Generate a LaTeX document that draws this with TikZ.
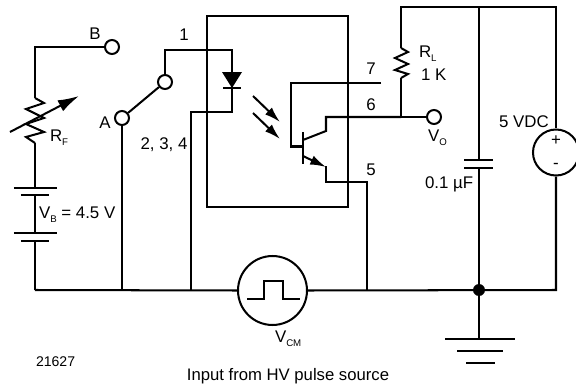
\documentclass[tikz,border=0pt]{standalone}
\usepackage{fontspec}
\setmainfont{Liberation Sans}
\usetikzlibrary{arrows.meta, calc}

\newcommand{\lowsub}[1]{\raisebox{-2.2pt}{\fontsize{5.5}{6}\selectfont #1}}

\begin{document}
\begin{tikzpicture}[
        x=0.02cm, y=-0.02cm,
        font=\fontsize{9.6}{11}\selectfont,
        line width=1.15pt,
        wire/.style={line width=1.15pt, line join=miter},
        term/.style={draw, circle, fill=white, inner sep=0pt, minimum size=0.28cm, line width=1.15pt},
        plate/.style={line width=1.15pt},
        lbl/.style={inner sep=0pt, anchor=center},
        lbll/.style={inner sep=0pt, anchor=west},
        head/.style={-{Latex[length=9pt,width=5.5pt]}, line width=1.15pt},
        bighead/.style={-{Latex[length=12pt,width=7pt]}, line width=1.15pt}
    ]
    \useasboundingbox (0,0) rectangle (576,389);

    % Terminals
    \node[term] (termB) at (112,47) {};
    \node[term] (termA) at (122,118) {};
    \node[term] (termC) at (165,82) {};
    \node[term] (termO) at (434,117) {};

    % Fixed points of the ground rail
    \coordinate (railL) at (35,290);
    \coordinate (railA) at (122,290);
    \coordinate (railD) at (191,290);
    \coordinate (rail5) at (367,290);
    \coordinate (railC) at (479,290);
    \coordinate (railR) at (556,290);

    % Left: variable resistor and battery
    \coordinate (rfTop) at (35,98);
    \coordinate (rfBot) at (35,143);
    \coordinate (batA) at (35,188);
    \coordinate (batB) at (35,195);
    \coordinate (batC) at (35,233);
    \coordinate (batD) at (35,241);
    \draw[wire] (termB.west) -| (rfTop);
    \draw[wire] (rfTop) -- ++(9,5) -- ++(-18,6) -- ++(18,9) -- ++(-18,6) -- ++(18,8) -- ++(-18,5) -- (rfBot);
    \draw[bighead] (10,132) -- (79,96);
    \draw[wire] (rfBot) -- (batA);
    \draw[plate] ($(batA)+(-21,0)$) -- ($(batA)+(22,0)$);
    \draw[plate] ($(batB)+(-14,0)$) -- ($(batB)+(14,0)$);
    \draw[wire] (batB) -- (batC);
    \draw[plate] ($(batC)+(-21,0)$) -- ($(batC)+(22,0)$);
    \draw[plate] ($(batD)+(-14,0)$) -- ($(batD)+(14,0)$);
    \draw[wire] (batD) -- (railL);

    % Switch
    \draw[wire] (termA) -- (termC);
    \draw[wire] (termA.south) -- (railA);

    % Optocoupler package
    \node[draw, line width=1.15pt, inner sep=0pt, minimum width=2.82cm, minimum height=3.82cm] (pkg) at (277.5,111.5) {};

    % Diode
    \coordinate (dioTop) at (232,72);
    \coordinate (dioBot) at (232,88);
    \draw[wire] (termC.north) |- (232,50) -- (dioTop);
    \fill (222,72) -- (242,72) -- (dioBot) -- cycle;
    \draw[plate] (223,88) -- (241,88);
    \draw[wire] (dioBot) |- (191,112) -- (railD);

    % Light arrows
    \draw[head] (253,96) -- (280,122);
    \draw[head] (253,113) -- (280,139);

    % Transistor
    \coordinate (base) at (303,146.5);
    \coordinate (pin6) at (401,117);
    \draw[wire] (303,132) -- (303,164);
    \draw[wire] (381,83) -| (291,146.5) -- (base);
    \draw[wire] (303,140) -- (326,131) |- (pin6);
    \draw[wire] (pin6) -- (termO.west);
    \draw[head] (303,156) -- (326,167);
    \draw[wire] (326,166) |- (367,182) -- (rail5);

    % Right: load resistor, capacitor, supply
    \coordinate (topL) at (401,7);
    \coordinate (topC) at (479,7);
    \coordinate (rlTop) at (401,48);
    \coordinate (rlBot) at (401,78);
    \coordinate (capA) at (479,160);
    \coordinate (capB) at (479,168);
    \node[draw, circle, line width=1.15pt, fill=white, inner sep=0pt, minimum size=0.92cm] (vdc) at (556,152.5) {};
    \draw[wire] (rlTop) |- (topL) -| (vdc.north);
    \draw[wire] (topC) -- (capA);
    \draw[wire] (rlTop) -- ++(7,4) -- ++(-13,6) -- ++(13,6) -- ++(-13,6) -- ++(13,4) -- (rlBot);
    \draw[wire] (rlBot) -- (pin6);
    \draw[plate] ($(capA)+(-15,0)$) -- ($(capA)+(14,0)$);
    \draw[plate] ($(capB)+(-15,0)$) -- ($(capB)+(14,0)$);
    \draw[wire] (capB) -- (railC);

    % Bottom: pulse source and ground
    \node[draw, circle, line width=1.15pt, inner sep=0pt, minimum size=1.38cm] (vcm) at (272.5,290.5) {};
    \draw[wire] (railL) -- (vcm.west);
    \draw[wire] (vcm.east) -- (railR) -- (vdc.south);
    \draw[wire] (247,299) -- (264,299) -- (264,281) -- (283,281) -- (283,299) -- (300,299);
    \fill (railC) circle (6);
    \coordinate (gnd) at (479,339);
    \draw[wire] (railC) -- (gnd);
    \draw[plate] (445,339) -- (515,339);
    \draw[plate] (457,351) -- (503,351);
    \draw[plate] (466,363) -- (495,363);

    % Labels
    \node[lbl] (lblB) at (95,34) {B};
    \node[lbl] (lblOne) at (184,35) {1};
    \node[lbl] (lblA) at (105,123) {A};
    \node[lbl] (lblPins) at (164,145) {2, 3, 4};
    \node[lbll] (lblRf) at (49,138) {R\lowsub{F}};
    \node[lbll] (lblVb) at (38,215) {V\lowsub{B} = 4.5 V};
    \node[lbl] (lblSeven) at (371,69) {7};
    \node[lbl] (lblSix) at (371,105) {6};
    \node[lbl] (lblFive) at (371,170) {5};
    \node[lbll] (lblRl) at (418,54) {R\lowsub{L}};
    \node[lbll] (lblK) at (420,75) {1 K};
    \node[lbll] (lblVo) at (427,138) {V\lowsub{O}};
    \node[lbl] (lblVdc) at (524,122) {5 VDC};
    \node[lbll] (lblCap) at (424,184) {0.1 µF};
    \node[lbl] (lblPlus) at (556,141) {+};
    \node[lbl] (lblMinus) at (556,166) {-};
    \node[lbll] (lblVcm) at (274,339) {V\lowsub{CM}};
    \node[lbll, font=\fontsize{8}{10}\selectfont] (lblNum) at (35,362) {21627};
    \node[lbl, font=\fontsize{9.5}{11}\selectfont] (lblInput) at (288,376) {Input from HV pulse source};

\end{tikzpicture}
\end{document}
